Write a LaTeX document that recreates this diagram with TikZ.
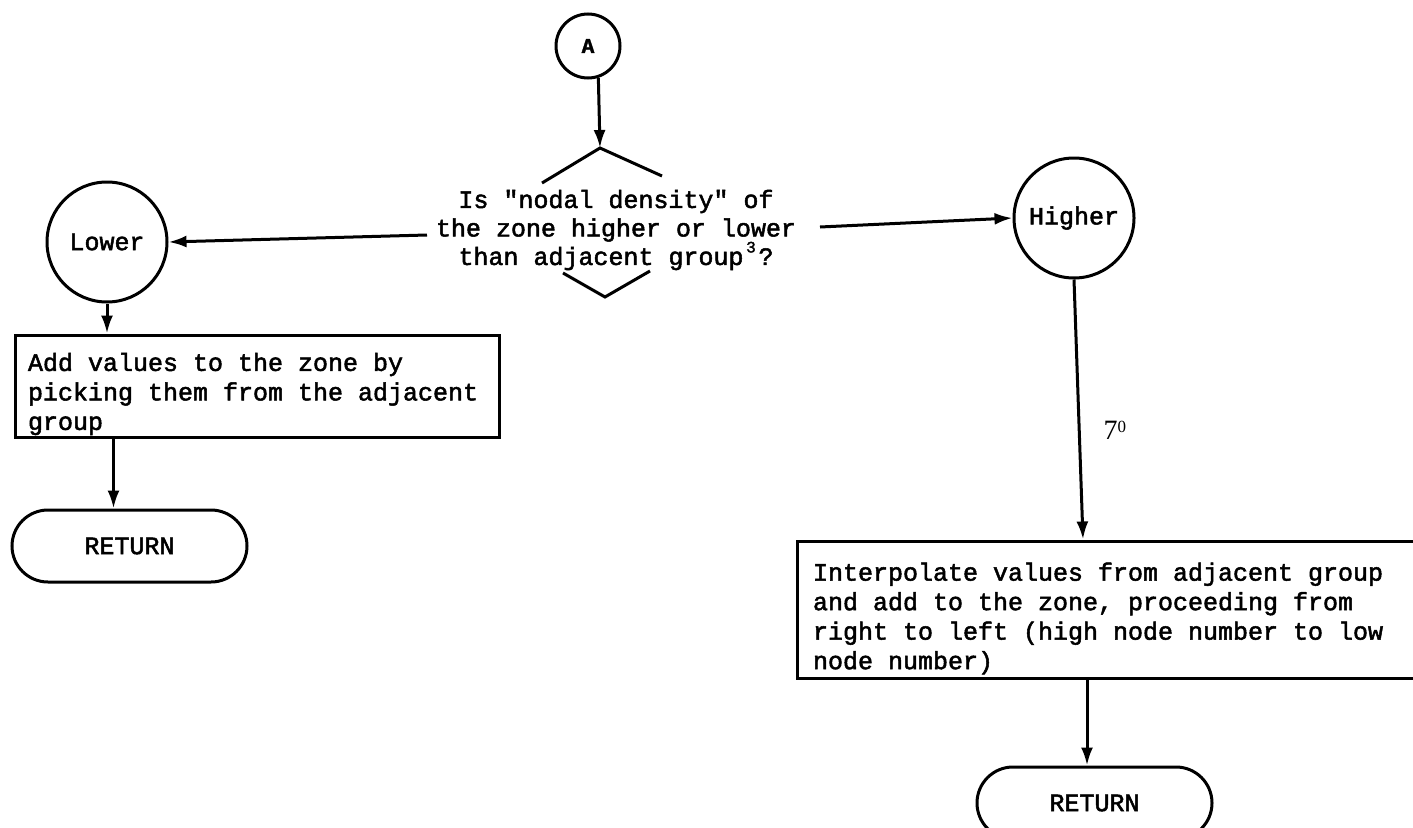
\documentclass[tikz,border=0pt]{standalone}
\usepackage{fontspec}
\newfontfamily\tw[FakeBold=2]{Liberation Mono}
\newfontfamily\numfont{Liberation Serif}
\usetikzlibrary{arrows.meta}

% typewriter text at 25pt
\newcommand\typed{\tw\fontsize{25}{29.5}\selectfont}
% one full character width between words, as on a typewriter
\newcommand\fixedspace{\spaceskip=15pt\relax\xspaceskip=15pt\relax}

\tikzset{
  flow/.style={line width=3pt, draw=black},
  arr/.style={flow, -{Latex[length=18pt,width=12pt]}},
  conn/.style={circle, draw=black, line width=3pt, minimum size=120pt, inner sep=0pt,
               font=\typed},
  procbox/.style={draw=black, line width=3pt, rectangle, align=left, inner ysep=0pt,
                  font=\typed, execute at begin node=\fixedspace},
  term/.style={draw=black, line width=3pt, rounded corners=36pt, minimum width=235pt,
               minimum height=72pt, inner sep=0pt, font=\typed},
  question/.style={align=center, inner sep=0pt, font=\tw\fontsize{25}{28.5}\selectfont},
}

\begin{document}
\begin{tikzpicture}[x=1pt, y=-1pt]
  \useasboundingbox (0,0) rectangle (1413,827);
  \fill[white] (0,0) rectangle (1413,827);
  \clip (0,0) rectangle (1413,827);

  % entry connector
  \node[circle, draw=black, line width=3pt, minimum size=64pt, inner sep=0pt,
        font=\tw\bfseries\fontsize{21}{24}\selectfont] (A) at (588,46) {A};

  % decision: only the tips of the diamond are drawn around the question
  \coordinate (dtop) at (600,148);
  \coordinate (dbot) at (605,297);
  \node[question] (Q) at (616,230)
    {Is "nodal density" of\\
     the zone higher or lower\\
     than adjacent group\makebox[0.6em]{\raisebox{0.5em}{\fontsize{16}{16}\selectfont 3}}?};
  \draw[flow] (dtop) +(-58,35) -- (dtop) -- +(62,28);
  \draw[flow] (dbot) +(-42,-24) -- (dbot) -- +(45,-26);

  % outcomes
  \node[conn] (L) at (107,242) {Lower};
  \node[conn] (H) at (1074,218) {Higher};
  \coordinate (qL) at (427,235);
  \coordinate (qR) at (820,227);

  % lower branch
  \node[procbox, text width=458pt, inner xsep=13pt, minimum height=102pt] (lbox) at (257,386)
    {\rule{0pt}{34pt}Add values to the zone by\\
     picking them from the adjacent\\
     group};
  \node[term] (lret) at (129.5,546) {RETURN};

  % higher branch
  \node[procbox, text width=601pt, inner xsep=16pt, minimum height=137pt] (rbox) at (1113.5,609.5)
    {\rule{0pt}{36pt}Interpolate values from adjacent group\\
     and add to the zone, proceeding from\\
     right to left (high node number to low\\
     node number)};
  \node[term] (rret) at (1094.5,803) {RETURN};

  % connectors
  \draw[arr] (A.-72) -- (dtop);
  \draw[arr] (qL) -- (L.east);
  \draw[arr] (qR) -- (H.west);
  \draw[arr] (L.south) -- (L.south |- lbox.north);
  \draw[arr] ([xshift=-16pt]lret.north |- lbox.south) -- ([xshift=-16pt]lret.north);
  \draw[arr] (H.south) -- ([xshift=9pt]H.south |- rbox.north)
    node[pos=0.58, anchor=west, inner sep=0pt, xshift=23pt,
         font=\numfont\fontsize{28}{30}\selectfont] (n70)
    {7\raisebox{7pt}{\fontsize{17}{18}\selectfont 0}};
  \draw[arr] ([xshift=-7.5pt]rret.north |- rbox.south) -- ([xshift=-7.5pt]rret.north);
\end{tikzpicture}
\end{document}
